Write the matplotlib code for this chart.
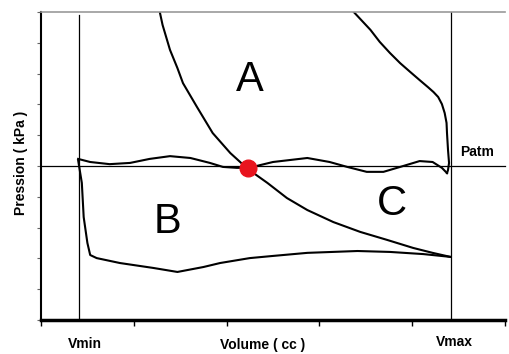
import matplotlib
matplotlib.use("Agg")
import matplotlib.pyplot as plt
import numpy as np

plt.rcParams['font.family'] = ['Liberation Sans', 'DejaVu Sans']

# reference levels
v_min = 0.41
v_max = 4.42
p_atm = 5.0

# expansion curve (A / B boundary)
exp_x = [1.28, 1.31, 1.39, 1.47, 1.53, 1.68, 1.85, 2.04, 2.23, 2.44, 2.65, 2.87, 3.15, 3.44, 3.73, 4.01, 4.22, 4.41]
exp_y = [10.0, 9.58, 8.77, 8.18, 7.69, 6.92, 6.07, 5.42, 4.90, 4.45, 3.96, 3.57, 3.18, 2.86, 2.60, 2.34, 2.18, 2.05]

# compression curve (upper right)
comp_x = [3.37, 3.46, 3.55, 3.65, 3.76, 3.87, 3.98, 4.08, 4.17, 4.23, 4.28, 4.32, 4.35, 4.37, 4.375, 4.386, 4.397, 4.386, 4.375]
comp_y = [10.0, 9.71, 9.42, 9.03, 8.67, 8.34, 8.05, 7.79, 7.56, 7.40, 7.24, 7.01, 6.72, 6.40, 6.07, 5.52, 5.10, 4.87, 4.77]

# wavy line near atmospheric pressure
atm_x = [0.40, 0.53, 0.74, 0.96, 1.17, 1.39, 1.61, 1.82, 1.96, 2.11, 2.23, 2.28, 2.50, 2.87,
         3.11, 3.30, 3.51, 3.69, 3.87, 4.08, 4.22, 4.32, 4.375]
atm_y = [5.23, 5.13, 5.06, 5.10, 5.23, 5.32, 5.26, 5.10, 4.97, 4.94, 4.94, 4.97, 5.13, 5.26,
         5.13, 4.97, 4.81, 4.81, 4.97, 5.16, 5.13, 4.94, 4.77]

# lower loop
low_x = [0.40, 0.44, 0.46, 0.50, 0.53, 0.60, 0.85, 1.21, 1.47, 1.75, 1.93, 2.25, 2.50, 2.87,
         3.41, 3.76, 4.12, 4.41]
low_y = [5.19, 4.45, 3.34, 2.50, 2.11, 2.01, 1.85, 1.69, 1.56, 1.72, 1.85, 2.01, 2.08, 2.18,
         2.24, 2.21, 2.14, 2.05]

dot = (2.23, 4.95)

fig = plt.figure(figsize=(5.09, 3.54), dpi=100)
ax = fig.add_axes([41/509, 34/354, 464/509, 308/354])

ax.axhline(p_atm, color='black', lw=0.9, clip_on=False)
ax.axvline(v_min, ymax=0.99, color='black', lw=0.9)
ax.axvline(v_max, color='black', lw=0.9)

ax.plot(exp_x, exp_y, color='black', lw=1.5)
ax.plot(comp_x, comp_y, color='black', lw=1.5)
ax.plot(atm_x, atm_y, color='black', lw=1.5)
ax.plot(low_x, low_y, color='black', lw=1.5)
ax.plot(*dot, 'o', color='#e8141e', ms=12, zorder=5)

ax.text(2.25, 7.79, 'A', fontsize=30, ha='center', va='center')
ax.text(1.36, 3.18, 'B', fontsize=30, ha='center', va='center')
ax.text(3.78, 3.77, 'C', fontsize=30, ha='center', va='center')
ax.text(4.70, 5.45, 'Patm', fontsize=10, fontweight='bold', ha='center', va='center')
ax.text(0.47, -0.78, 'Vmin', fontsize=10, fontweight='bold', ha='center', va='center', clip_on=False)
ax.text(4.45, -0.71, 'Vmax', fontsize=10, fontweight='bold', ha='center', va='center', clip_on=False)
ax.text((263-41)/464, -0.081, 'Volume ( cc )', transform=ax.transAxes,
        fontsize=10, fontweight='bold', ha='center', va='center')
ax.text(-0.043, 0.51, 'Pression ( kPa )', transform=ax.transAxes, rotation=90,
        fontsize=10, fontweight='bold', ha='center', va='center')

ax.set_xlim(0, 5)
ax.set_ylim(0, 10)
ax.set_xticks(np.arange(0, 6))
ax.set_yticks(np.arange(0, 11))
ax.set_xticklabels([])
ax.set_yticklabels([])
ax.tick_params(axis='x', direction='out', length=4, width=1, color='black')
ax.tick_params(axis='y', direction='out', length=3, width=0.8, color='#666666')

ax.spines['right'].set_visible(False)
ax.spines['top'].set_color('#999999')
ax.spines['top'].set_linewidth(1.2)
ax.spines['left'].set_linewidth(1.5)
ax.spines['bottom'].set_linewidth(2.5)

fig.savefig('out.png', dpi=100)
